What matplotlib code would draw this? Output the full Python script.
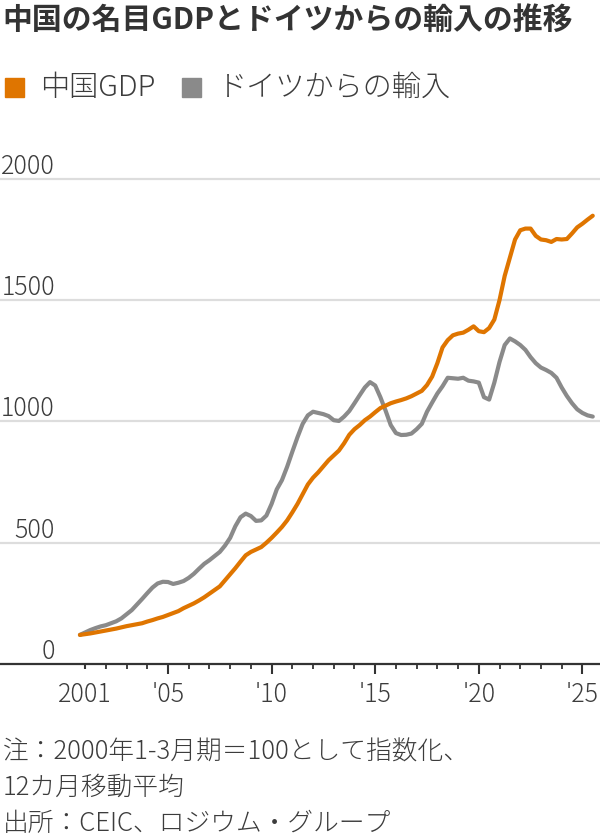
import matplotlib
matplotlib.use("Agg")
import matplotlib.pyplot as plt
import matplotlib.transforms as mtransforms
from matplotlib.patches import Rectangle
from matplotlib import font_manager
import numpy as np

plt.rcParams['font.family'] = ['Noto Sans CJK JP', 'DejaVu Sans']

# ---- data (quarterly, 12-month moving average, 2000 Q1 = 100) ----
start_year = 2000.75
gdp = [120, 123, 126, 130, 134, 138, 142, 146, 151, 156, 160, 164, 168, 175, 181, 188, 194,
       202, 210, 218, 230, 240, 250, 262, 275, 290, 305, 320, 345, 370, 395, 422, 448,
       462, 472, 482, 500, 520, 542, 565, 592, 625, 660, 700, 740, 768, 790, 815, 840,
       860, 880, 910, 945, 968, 985, 1005, 1020, 1038, 1055, 1065, 1075, 1082, 1088, 1095, 1104,
       1115, 1126, 1150, 1185, 1240, 1305, 1335, 1355, 1362, 1366, 1378, 1392, 1372, 1368, 1385, 1420,
       1500, 1600, 1675, 1750, 1788, 1795, 1795, 1765, 1750, 1747, 1740, 1752, 1750, 1752, 1775, 1800,
       1815, 1832, 1848]
imports_de = [120, 130, 140, 148, 155, 160, 168, 176, 188, 205, 222, 245, 268, 292, 315, 332, 339,
              338, 330, 335, 342, 355, 372, 393, 413, 428, 445, 462, 488, 520, 568, 605, 620,
              610, 590, 592, 612, 660, 720, 758, 813, 875, 935, 990, 1025, 1040, 1035, 1030, 1022,
              1005, 1002, 1020, 1043, 1075, 1108, 1140, 1162, 1148, 1100, 1045, 985, 952, 944, 945, 950,
              968, 990, 1040, 1078, 1115, 1145, 1180, 1178, 1176, 1180, 1168, 1165, 1160, 1100, 1090, 1160,
              1245, 1315, 1342, 1330, 1315, 1295, 1265, 1240, 1222, 1212, 1200, 1180, 1140, 1105, 1075, 1050,
              1035, 1025, 1020]
series_names = ['中国GDP', 'ドイツからの輸入']
y_ticks = [0, 500, 1000, 1500, 2000]
x_label_years = [2001, 2005, 2010, 2015, 2020, 2025]
x_labels = ['2001', "'05", "'10", "'15", "'20", "'25"]
title = '中国の名目GDPとドイツからの輸入の推移'
notes = ['注：2000年1-3月期＝100として指数化、', '12カ月移動平均', '出所：CEIC、ロジウム・グループ']

t = start_year + 0.25 * np.arange(len(gdp))

ORANGE = '#df7500'
GRAY = '#8a8a8a'
TXT = '#3c3c3c'

# try to find a light-weight CJK JP face
light_file = None
best = None
for f in font_manager.fontManager.ttflist:
    if 'CJK JP' in f.name or 'CJK SC' in f.name:
        w = f.weight if isinstance(f.weight, (int, float)) else 400
        if 250 <= w < 400:
            score = (0 if 'JP' in f.name else 1, abs(w - 300))
            if best is None or score < best:
                best = score
                light_file = f.fname
if light_file:
    def FP(size):
        return font_manager.FontProperties(fname=light_file, size=size)
else:
    def FP(size):
        return font_manager.FontProperties(family=['Noto Sans CJK JP', 'DejaVu Sans'], size=size)

fig = plt.figure(figsize=(6, 8.4), dpi=100)
ax = fig.add_axes([0, 0.20952, 1, 0.5920])

ax.set_xlim(1996.892, 2025.85)
ax.set_ylim(0, 2050)

for v in y_ticks[1:]:
    ax.axhline(v, color='#dddddd', lw=1.6, zorder=1)

ax.plot(t, imports_de, color=GRAY, lw=3, zorder=3, solid_capstyle='round')
ax.plot(t, gdp, color=ORANGE, lw=3, zorder=4, solid_capstyle='round')

for s in ['top', 'right', 'left']:
    ax.spines[s].set_visible(False)
ax.spines['bottom'].set_color('#333333')
ax.spines['bottom'].set_linewidth(1.6)
ax.set_yticks([])

ax.set_xticks(x_label_years)
ax.set_xticklabels(x_labels, color=TXT)
for lbl in ax.get_xticklabels():
    lbl.set_fontproperties(FP(18))
ax.set_xticks(range(2001, 2026), minor=True)
ax.tick_params(axis='x', which='major', length=7.5, width=1.5, color='#333333', pad=5)
ax.tick_params(axis='x', which='minor', length=3.6, width=1.3, color='#333333')
ax.xaxis.get_major_ticks()[0].tick1line.set_markersize(3.6)

trans = mtransforms.blended_transform_factory(ax.transAxes, ax.transData)
trans = mtransforms.offset_copy(trans, fig=fig, y=5, units='dots')
for v in y_ticks:
    ax.text(55 / 600, v, str(v), transform=trans, ha='right', va='baseline',
            fontproperties=FP(18), color=TXT)

fig.text(0.004, 1 - 20 / 840, title, fontsize=21.5, fontweight='bold', color='#333333',
         va='center', ha='left')

# legend
leg_y = 1 - 88 / 840
sq = 19
fig.patches.append(Rectangle((5 / 600, leg_y - sq / 2 / 840), sq / 600, sq / 840,
                             transform=fig.transFigure, color=ORANGE, figure=fig))
fig.text(40 / 600, leg_y, series_names[0], fontproperties=FP(21), color=TXT, va='center', ha='left')
fig.patches.append(Rectangle((182 / 600, leg_y - sq / 2 / 840), sq / 600, sq / 840,
                             transform=fig.transFigure, color=GRAY, figure=fig))
fig.text(218 / 600, leg_y, series_names[1], fontproperties=FP(21), color=TXT, va='center', ha='left')

for i, line in enumerate(notes):
    fig.text(0.004, 1 - (752 + 36 * i) / 840, line, fontproperties=FP(18.5), color=TXT,
             va='center', ha='left')

fig.savefig('out.png', dpi=100)
